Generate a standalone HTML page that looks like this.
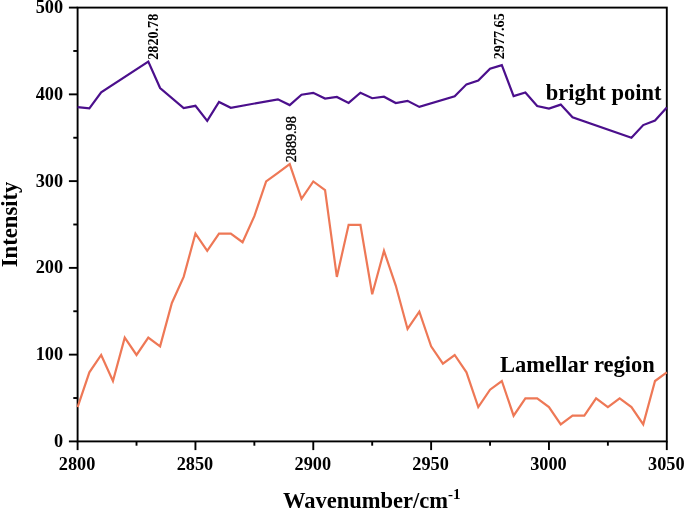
<!DOCTYPE html>
<html><head><meta charset="utf-8"><style>
html,body{margin:0;padding:0;background:#fff;}
body{width:685px;height:509px;overflow:hidden;}
svg{display:block;}
</style></head><body>
<svg width="685" height="509" viewBox="0 0 685 509">
<g font-family="'Liberation Serif', serif" font-weight="bold" fill="#000">
<rect x="77.6" y="7.6" width="589.20" height="433.80" fill="none" stroke="#000" stroke-width="1.9"/><line x1="68.90" y1="441.40" x2="77.6" y2="441.40" stroke="#000" stroke-width="1.9"/><line x1="73.30" y1="398.02" x2="77.6" y2="398.02" stroke="#000" stroke-width="1.9"/><line x1="68.90" y1="354.64" x2="77.6" y2="354.64" stroke="#000" stroke-width="1.9"/><line x1="73.30" y1="311.26" x2="77.6" y2="311.26" stroke="#000" stroke-width="1.9"/><line x1="68.90" y1="267.88" x2="77.6" y2="267.88" stroke="#000" stroke-width="1.9"/><line x1="73.30" y1="224.50" x2="77.6" y2="224.50" stroke="#000" stroke-width="1.9"/><line x1="68.90" y1="181.12" x2="77.6" y2="181.12" stroke="#000" stroke-width="1.9"/><line x1="73.30" y1="137.74" x2="77.6" y2="137.74" stroke="#000" stroke-width="1.9"/><line x1="68.90" y1="94.36" x2="77.6" y2="94.36" stroke="#000" stroke-width="1.9"/><line x1="73.30" y1="50.98" x2="77.6" y2="50.98" stroke="#000" stroke-width="1.9"/><line x1="68.90" y1="7.60" x2="77.6" y2="7.60" stroke="#000" stroke-width="1.9"/><line x1="77.60" y1="441.4" x2="77.60" y2="450.10" stroke="#000" stroke-width="1.9"/><line x1="136.52" y1="441.4" x2="136.52" y2="445.70" stroke="#000" stroke-width="1.9"/><line x1="195.44" y1="441.4" x2="195.44" y2="450.10" stroke="#000" stroke-width="1.9"/><line x1="254.36" y1="441.4" x2="254.36" y2="445.70" stroke="#000" stroke-width="1.9"/><line x1="313.28" y1="441.4" x2="313.28" y2="450.10" stroke="#000" stroke-width="1.9"/><line x1="372.20" y1="441.4" x2="372.20" y2="445.70" stroke="#000" stroke-width="1.9"/><line x1="431.12" y1="441.4" x2="431.12" y2="450.10" stroke="#000" stroke-width="1.9"/><line x1="490.04" y1="441.4" x2="490.04" y2="445.70" stroke="#000" stroke-width="1.9"/><line x1="548.96" y1="441.4" x2="548.96" y2="450.10" stroke="#000" stroke-width="1.9"/><line x1="607.88" y1="441.4" x2="607.88" y2="445.70" stroke="#000" stroke-width="1.9"/><line x1="666.80" y1="441.4" x2="666.80" y2="450.10" stroke="#000" stroke-width="1.9"/><polyline points="77.60,407.05 89.38,372.34 101.17,354.99 112.95,381.02 124.74,337.64 136.52,354.99 148.30,337.64 160.09,346.31 171.87,302.93 183.66,276.91 195.44,233.53 207.22,250.88 219.01,233.53 230.79,233.53 242.58,242.20 254.36,216.17 266.14,181.47 277.93,172.79 289.71,164.12 301.50,198.82 313.28,181.47 325.06,190.15 336.85,276.91 348.63,224.85 360.42,224.85 372.20,294.26 383.98,250.88 395.77,285.58 407.55,328.96 419.34,311.61 431.12,346.31 442.90,363.67 454.69,354.99 466.47,372.34 478.26,407.05 490.04,389.69 501.82,381.02 513.61,415.72 525.39,398.37 537.18,398.37 548.96,407.05 560.74,424.40 572.53,415.72 584.31,415.72 596.10,398.37 607.88,407.05 619.66,398.37 631.45,407.05 643.23,424.40 655.02,381.02 666.80,372.34" fill="none" stroke="#EE7856" stroke-width="2.2" stroke-linejoin="miter"/><polyline points="77.60,107.18 89.38,108.38 101.17,92.25 148.30,61.61 160.09,88.07 183.66,108.02 195.44,105.82 207.22,120.89 219.01,101.97 230.79,107.77 277.93,99.33 289.71,105.07 301.50,94.69 313.28,92.86 325.06,98.53 336.85,97.00 348.63,102.87 360.42,92.69 372.20,98.23 383.98,96.66 395.77,103.07 407.55,100.87 419.34,106.86 454.69,96.23 466.47,84.35 478.26,80.63 490.04,68.82 501.82,65.17 513.61,96.13 525.39,92.46 537.18,106.08 548.96,108.51 560.74,104.60 572.53,117.32 631.45,137.79 643.23,125.09 655.02,120.58 666.80,107.48" fill="none" stroke="#4B0F8C" stroke-width="2.2" stroke-linejoin="miter"/>
<g font-size="18.3"><text x="63.1" y="446.90" text-anchor="end">0</text><text x="63.1" y="360.14" text-anchor="end">100</text><text x="63.1" y="273.38" text-anchor="end">200</text><text x="63.1" y="186.62" text-anchor="end">300</text><text x="63.1" y="99.86" text-anchor="end">400</text><text x="63.1" y="13.10" text-anchor="end">500</text><text x="77.10" y="470.3" text-anchor="middle">2800</text><text x="194.94" y="470.3" text-anchor="middle">2850</text><text x="312.78" y="470.3" text-anchor="middle">2900</text><text x="430.62" y="470.3" text-anchor="middle">2950</text><text x="548.46" y="470.3" text-anchor="middle">3000</text><text x="666.30" y="470.3" text-anchor="middle">3050</text></g>
<g font-size="14.2">
<text transform="translate(158.3,59.8) rotate(-90)">2820.78</text>
<text transform="translate(296.2,162.3) rotate(-90)" font-weight="normal" stroke="#000" stroke-width="0.35">2889.98</text>
<text transform="translate(504.4,59.3) rotate(-90)">2977.65</text>
</g>
<text x="545.8" y="99.6" font-size="22.5">bright point</text>
<text x="500" y="372.2" font-size="22.5">Lamellar region</text>
<text transform="translate(17.3,267.3) rotate(-90)" font-size="22.7">Intensity</text>
<text x="283" y="508" font-size="22.5">Wavenumber/cm<tspan font-size="15" dy="-9">-1</tspan></text>
</g>
</svg>
</body></html>
